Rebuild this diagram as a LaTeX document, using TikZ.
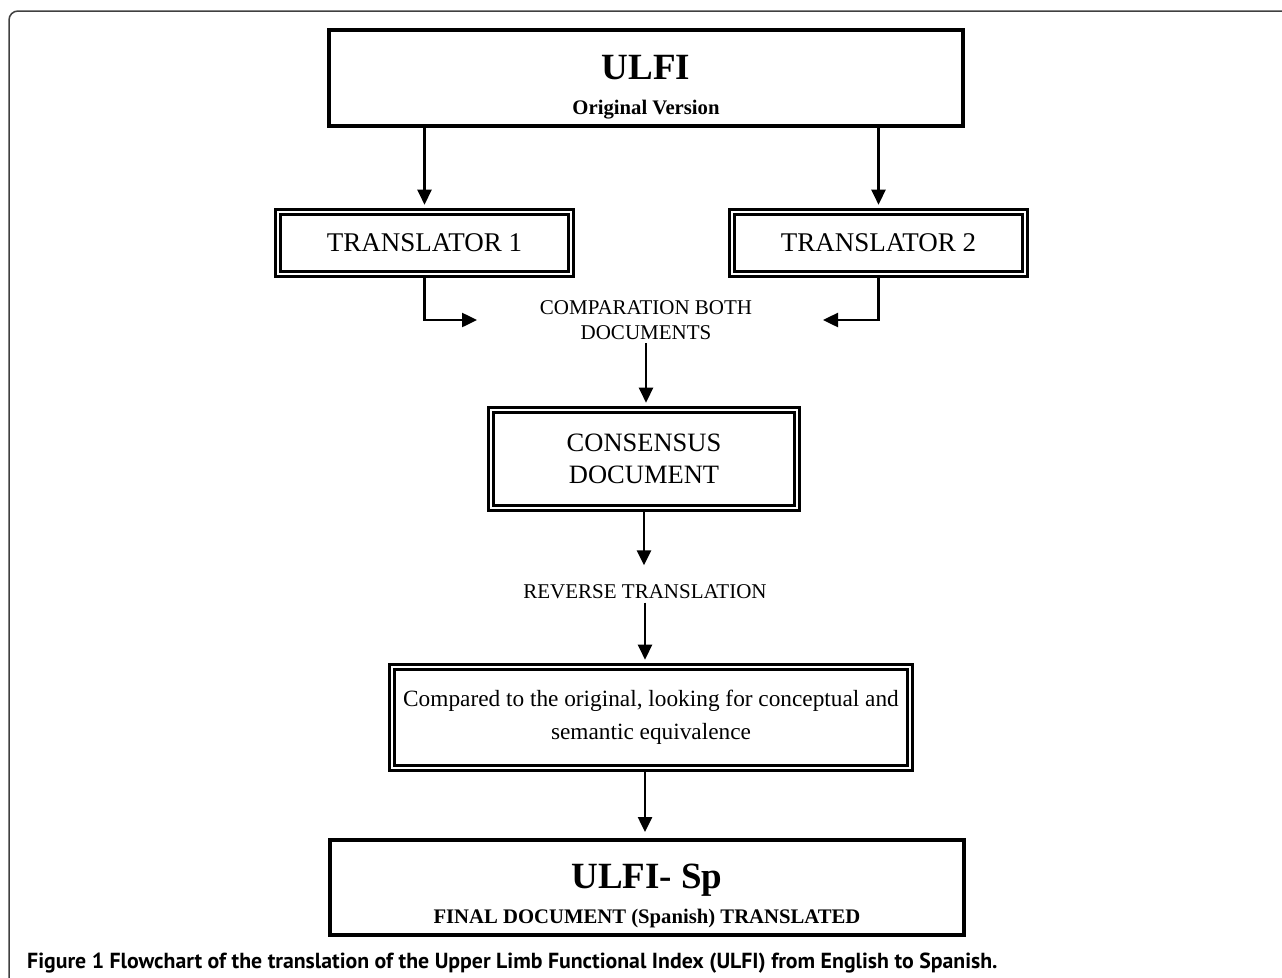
\documentclass[tikz,border=0pt]{standalone}
\usepackage{fontspec}
\setmainfont{Liberation Serif}
\newfontfamily\capfont{PT Sans}
\usetikzlibrary{arrows.meta,positioning}

\tikzset{
  boldbox/.style={draw, line width=4pt, minimum width=634pt, minimum height=96pt,
    align=center, inner sep=0pt, text depth=0pt,
    font=\fontsize{20.7}{35}\selectfont\bfseries},
  dblbox/.style={draw, double, double distance=2.4pt, line width=2.6pt,
    align=center, inner sep=0pt},
  flow/.style={line width=2.5pt, shorten >=6pt, -{Triangle[length=15pt,width=14pt]}},
  steptext/.style={align=center, font=\fontsize{21}{25}\selectfont},
}

\begin{document}
\begin{tikzpicture}[x=1pt,y=-1pt]
  \useasboundingbox (0,0) rectangle (1282,977);
  % frame
  \draw[line width=1.5pt, black!75, rounded corners=9pt] (9,985) -- (9,11) -- (1290,11);

  % boxes
  \node[boldbox] (ulfi) at (646,78) {\rule{0pt}{37pt}{\fontsize{37}{35}\selectfont ULFI}\\Original Version};
  \node[dblbox, minimum width=293pt, minimum height=62pt, font=\fontsize{27}{30}\selectfont] (t1) at (424.5,243) {TRANSLATOR 1};
  \node[dblbox, minimum width=293pt, minimum height=62pt, font=\fontsize{27}{30}\selectfont] (t2) at (878.5,243) {TRANSLATOR 2};
  \node[steptext] (comp) at (646,320) {COMPARATION BOTH\\DOCUMENTS};
  \node[dblbox, minimum width=306pt, minimum height=98pt, font=\fontsize{26.5}{32}\selectfont] (cons) at (644,459) {CONSENSUS\\DOCUMENT};
  \node[steptext] (rev) at (645,592) {REVERSE TRANSLATION};
  \node[dblbox, minimum width=518pt, minimum height=101pt, font=\fontsize{23.3}{33}\selectfont] (cmpd) at (651,717.5)
    {Compared to the original, looking for conceptual and\\semantic equivalence};
  \node[boldbox, minimum height=95pt] (final) at (647,887.5) {\rule{0pt}{37pt}{\fontsize{37}{35}\selectfont ULFI- Sp}\\FINAL DOCUMENT (Spanish) TRANSLATED};

  % caption
  \node[anchor=base west, inner sep=0pt, font=\capfont\fontsize{21.8}{24}\selectfont\bfseries] (cap) at (27,968)
    {Figure 1 Flowchart of the translation of the Upper Limb Functional Index (ULFI) from English to Spanish.};

  % arrows
  \coordinate (cmpL) at (483,320);
  \coordinate (cmpR) at (817,320);
  \draw[flow] (ulfi.south -| t1.north) -- (t1.north);
  \draw[flow] (ulfi.south -| t2.north) -- (t2.north);
  \draw[flow] (t1.south) |- (cmpL);
  \draw[flow] (t2.south) |- (cmpR);
  \draw[flow] (comp.south) -- (comp.south |- cons.north);
  \draw[flow, shorten >=16pt] (cons.south) -- (cons.south |- rev.north);
  \draw[flow] (rev.south) -- (rev.south |- cmpd.north);
  \draw[flow] (cmpd.south -| rev.south) -- (final.north -| rev.south);
\end{tikzpicture}
\end{document}
